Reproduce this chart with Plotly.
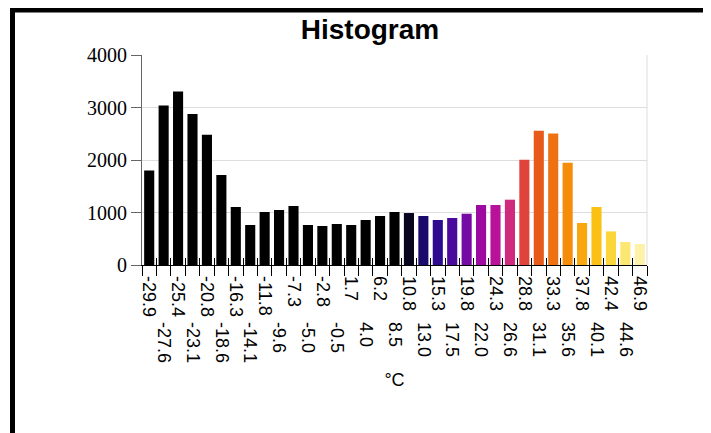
import plotly.graph_objects as go

# ---- data -------------------------------------------------------------
bin_labels = ["-29.9", "-27.6", "-25.4", "-23.1", "-20.8", "-18.6", "-16.3",
              "-14.1", "-11.8", "-9.6", "-7.3", "-5.0", "-2.8", "-0.5", "1.7",
              "4.0", "6.2", "8.5", "10.8", "13.0", "15.3", "17.5", "19.8",
              "22.0", "24.3", "26.6", "28.8", "31.1", "33.3", "35.6", "37.8",
              "40.1", "42.4", "44.6", "46.9"]
counts = [1800, 3040, 3307, 2876, 2482, 1714, 1105, 762, 1010, 1048, 1124,
          762, 743, 781, 762, 857, 933, 1010, 990, 933, 857, 895, 977, 1143,
          1143, 1244, 2006, 2558, 2507, 1949, 800, 1105, 640, 438, 400]
y_ticks = [0, 1000, 2000, 3000, 4000]

# ---- style --------------------------------------------------------------
bar_colors = ["#000000"] * 18 + [
    "#08061e", "#1a0a6c", "#2e0a8e", "#4c0a9c", "#760aa4", "#9c0aa0",
    "#b8129a", "#d02a7e", "#e0423c", "#e85a1a", "#ef7212", "#f58c0a",
    "#f8a80e", "#fbc014", "#fbd63a", "#fce772", "#fdf2a8"]

OFF = 8  # page body margin
W, H = 711 - OFF, 433 - OFF
L, R, T, B = 142 - OFF, 64, 55 - OFF, 168
PW, PH = W - L - R, H - T - B


def px(x):  # page pixel -> paper x
    return (x - OFF - L) / PW


def py(y):  # page pixel -> paper y
    return (H - B - (y - OFF)) / PH


n = len(counts)
pos = list(range(n))
rng = [-0.5, n - 0.5]
bounds = [i - 0.5 for i in range(n + 1)]

fig = go.Figure()
fig.add_trace(go.Bar(x=pos, y=counts, marker=dict(color=bar_colors, line=dict(width=0)),
                     hoverinfo="x+y", showlegend=False))
for ax in ["x2", "x3", "x4"]:
    fig.add_trace(go.Scatter(x=[None], y=[None], xaxis=ax, yaxis="y",
                             showlegend=False, hoverinfo="skip"))

lab_font = dict(family="Liberation Sans, Arial, sans-serif", size=18, color="#000")

fig.update_layout(
    width=W, height=H,
    margin=dict(l=L, r=R, t=T, b=B, autoexpand=False),
    paper_bgcolor="white", plot_bgcolor="white",
    bargap=0.3,
    title=dict(text="<b>Histogram</b>", x=(370 - OFF) / W, xanchor="center", xref="container",
               y=1 - (29 - OFF) / H, yanchor="middle", yref="container",
               font=dict(family="Liberation Sans, Arial, sans-serif", size=28, color="#000")),
    xaxis=dict(range=rng, tickmode="array", tickvals=bounds, showticklabels=False,
               ticks="outside", ticklen=10, tickcolor="#000", tickwidth=1,
               showline=True, linecolor="#000", linewidth=1, showgrid=False,
               zeroline=False, fixedrange=True),
    xaxis2=dict(overlaying="x", range=rng, tickmode="array", tickvals=bounds,
                showticklabels=False, ticks="inside", ticklen=7, tickcolor="#000",
                showline=False, showgrid=False, zeroline=False, fixedrange=True),
    xaxis3=dict(overlaying="x", range=rng, tickmode="array", tickvals=pos[0::2],
                ticktext=bin_labels[0::2], tickangle=90, ticks="", showline=False,
                showgrid=False, zeroline=False, tickfont=lab_font,
                ticklabelstandoff=10, fixedrange=True),
    xaxis4=dict(overlaying="x", range=rng, tickmode="array", tickvals=pos[1::2],
                ticktext=bin_labels[1::2], tickangle=90, ticks="", showline=False,
                showgrid=False, zeroline=False, tickfont=lab_font,
                ticklabelstandoff=56, fixedrange=True,
                title=dict(text="°C", font=lab_font, standoff=11)),
    yaxis=dict(range=[0, 4000], tickmode="array", tickvals=y_ticks,
               ticks="outside", ticklen=10, tickcolor="#666", showline=True,
               linecolor="#666", linewidth=1, showgrid=True, gridcolor="#dddddd",
               zeroline=False, fixedrange=True,
               tickfont=dict(family="Liberation Serif, Times New Roman, serif",
                             size=20, color="#000")),
    shapes=[
        dict(type="line", xref="paper", yref="paper", x0=1, x1=1, y0=0, y1=1,
             line=dict(color="#dddddd", width=1), layer="below"),
        dict(type="rect", xref="paper", yref="paper", x0=px(10), x1=px(15),
             y0=py(460), y1=py(8), fillcolor="#000", line=dict(width=0)),
        dict(type="rect", xref="paper", yref="paper", x0=px(10), x1=px(730),
             y0=py(12.5), y1=py(8), fillcolor="#000", line=dict(width=0)),
    ],
)

fig.write_html("out.html")
